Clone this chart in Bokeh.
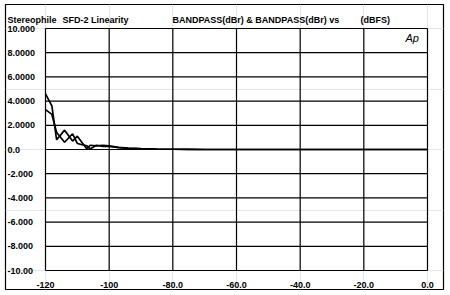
from bokeh.plotting import figure
from bokeh.models import Range1d
from bokeh.core.properties import value
from bokeh.embed import file_html
from bokeh.resources import INLINE

# ---- data ----
level_dbfs = [-120, -118, -116.5, -114, -111.5, -110, -107, -106, -104, -102,
              -100, -97, -94, -90, -85, -80, -75, -70, -60, -50, -40, -30, -20, -10, 0]
left_dbr = [4.6, 3.6, 0.8, 1.6, 0.7, 1.1, 0.05, 0.35, 0.3, 0.35,
            0.3, 0.18, 0.12, 0.08, 0.04, 0.02, 0.01, 0.0, 0.0, 0.0, 0.0, 0.0, 0.0, 0.0, 0.0]
right_dbr = [3.3, 2.9, 1.4, 0.6, 1.3, 0.5, 0.3, 0.05, 0.35, 0.25,
             0.25, 0.15, 0.1, 0.06, 0.03, 0.02, 0.01, 0.0, 0.0, 0.0, 0.0, 0.0, 0.0, 0.0, 0.0]

x_ticks = [-120, -100, -80, -60, -40, -20, 0]
x_tick_labels = ["-120", "-100", "-80.0", "-60.0", "-40.0", "-20.0", "0.0"]
y_ticks = [10, 8, 6, 4, 2, 0, -2, -4, -6, -8, -10]
y_tick_labels = ["10.000", "8.0000", "6.0000", "4.0000", "2.0000", "0.0",
                 "-2.000", "-4.000", "-6.000", "-8.000", "-10.00"]
header_texts = ["Stereophile", "SFD-2 Linearity",
                "BANDPASS(dBr)  &  BANDPASS(dBr)  vs", "(dBFS)"]

X_MIN, X_MAX = -120, 0
Y_MIN, Y_MAX = -10, 10

# layout: the frame is the outer border box; the graph area sits inside it
FONT = value("Liberation Sans")
PX_X = 382 / (X_MAX - X_MIN)      # pixels per dB
PX_Y = 242 / (Y_MAX - Y_MIN)      # pixels per unit
x_lo = X_MIN - 40 / PX_X
x_hi = X_MAX + 16 / PX_X
y_hi = Y_MAX + 24 / PX_Y
y_lo = Y_MIN - 19 / PX_Y

p = figure(width=450, height=295, output_backend="svg", toolbar_location=None,
           x_range=Range1d(x_lo, x_hi), y_range=Range1d(y_lo, y_hi),
           x_axis_location=None, y_axis_location=None)
p.min_border = 0
p.min_border_left = 5
p.min_border_top = 4
p.min_border_right = 7
p.min_border_bottom = 6
p.frame_width = 438
p.frame_height = 285
p.background_fill_color = "white"
p.border_fill_color = "white"
p.outline_line_color = "black"
p.outline_line_width = 1.2

# grid lines and plot-area border (from tick arrays)
p.segment(x0=x_ticks, y0=[Y_MIN] * len(x_ticks), x1=x_ticks, y1=[Y_MAX] * len(x_ticks),
          line_color="black", line_width=1.2)
p.segment(x0=[X_MIN] * len(y_ticks), y0=y_ticks, x1=[X_MAX] * len(y_ticks), y1=y_ticks,
          line_color="black", line_width=1.2)

# curves
p.line(level_dbfs, left_dbr, line_color="black", line_width=1.7)
p.line(level_dbfs, right_dbr, line_color="black", line_width=1.7)

# tick labels
p.text(x=[X_MIN - 38 / PX_X] * len(y_ticks), y=y_ticks, text=y_tick_labels,
       text_align="left", text_baseline="middle", text_font=FONT,
       text_font_style="bold", text_font_size="9px", text_color="black")
p.text(x=x_ticks, y=[Y_MIN - 14 / PX_Y] * len(x_ticks), text=x_tick_labels,
       text_align="center", text_baseline="middle", text_font=FONT,
       text_font_style="bold", text_font_size="9px", text_color="black")

# header
hx = [X_MIN - 38 / PX_X, X_MIN + 17 / PX_X, X_MIN + 127 / PX_X, X_MIN + 315 / PX_X]
p.text(x=hx, y=[Y_MAX + 8.5 / PX_Y] * len(hx), text=header_texts,
       text_align="left", text_baseline="alphabetic", text_font=FONT,
       text_font_style="bold", text_font_size="9px", text_color="black")

# Audio Precision logo
p.text(x=[X_MAX - 6.9], y=[Y_MAX - 9 / PX_Y], text=["Ap"], text_align="left",
       text_baseline="middle", text_font=FONT, text_font_style="italic",
       text_font_size="11px", text_color="black")

open("out.html", "w").write(file_html(p, INLINE))
